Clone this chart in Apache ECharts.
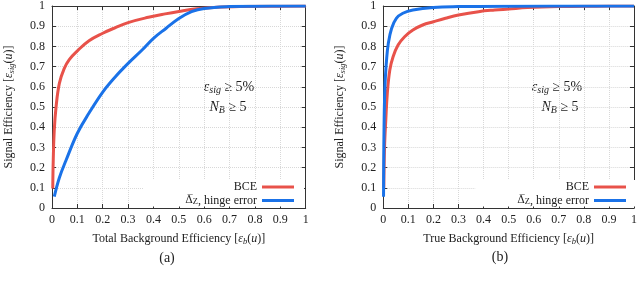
<!DOCTYPE html>
<html><head><meta charset="utf-8">
<script src="https://cdn.jsdelivr.net/npm/echarts@6/dist/echarts.min.js"></script>
<style>html,body{margin:0;padding:0;background:#fff}#c{width:640px;height:286px}</style>
</head><body><div id="c"></div>
<script>
// ---- data ----
const tickLabels = ['0','0.1','0.2','0.3','0.4','0.5','0.6','0.7','0.8','0.9','1'];
const seriesNames = ['BCE', '\u0394\u0305Z, hinge error'];

// (a) Total background efficiency
const bceTotalX   = [0.003,0.005,0.009,0.016,0.029,0.048,0.068,0.1,0.146,0.2,0.25,0.3,0.38,0.446,0.5,0.57,0.65,0.75,0.85,1.0];
const bceTotalY   = [0.097,0.24,0.386,0.50,0.617,0.69,0.735,0.778,0.828,0.865,0.893,0.918,0.944,0.961,0.973,0.986,0.994,0.998,0.999,1.0];
const hingeTotalX = [0.009,0.029,0.055,0.1,0.146,0.2,0.25,0.3,0.355,0.4,0.45,0.5,0.55,0.6,0.7,0.8,1.0];
const hingeTotalY = [0.056,0.15,0.235,0.37,0.47,0.574,0.65,0.716,0.782,0.84,0.89,0.938,0.972,0.988,0.997,0.999,1.0];

// (b) True background efficiency
const bceTrueX   = [0.002,0.005,0.01,0.016,0.026,0.039,0.059,0.085,0.118,0.157,0.2,0.248,0.3,0.38,0.444,0.5,0.575,0.7,0.85,1.0];
const bceTrueY   = [0.1,0.3,0.436,0.568,0.683,0.749,0.807,0.848,0.881,0.906,0.922,0.939,0.955,0.972,0.98,0.985,0.992,0.997,0.999,1.0];
const hingeTrueX = [0.001,0.0015,0.003,0.0065,0.013,0.02,0.033,0.052,0.078,0.118,0.2,0.3,0.5,1.0];
const hingeTrueY = [0.056,0.2,0.4,0.6,0.733,0.815,0.889,0.939,0.964,0.98,0.993,0.997,0.999,1.0];

// ---- chart ----
const SERIF = '"Liberation Serif","DejaVu Serif",serif';
const TXT = '#222';
const RED = '#e8524a';
const BLUE = '#1a72e8';

const richBase = {
  n:  {fontFamily: SERIF, fontSize: 12, color: TXT, lineHeight: 14, verticalAlign: 'middle'},
  i:  {fontFamily: SERIF, fontSize: 12, color: TXT, fontStyle: 'italic', lineHeight: 14, verticalAlign: 'middle'},
  s:  {fontFamily: SERIF, fontSize: 8.5, color: TXT, fontStyle: 'italic', lineHeight: 9, padding: [6,0,0,0], verticalAlign: 'bottom'}
};

function pairs(xs, ys) { return xs.map((x, k) => [x, ys[k]]); }
const fmt = v => tickLabels[Math.round(v * 10)];

function xAx(gi, pos, main, name) {
  return {
    type: 'value', gridIndex: gi, position: pos, min: 0, max: 1, interval: 0.1,
    axisLine: {show: true, onZero: false, lineStyle: {color: '#333', width: 1}},
    axisTick: {show: true, inside: true, length: 4, lineStyle: {color: '#333'}},
    axisLabel: {show: main, formatter: fmt, fontFamily: SERIF, fontSize: 12, color: TXT, margin: 6},
    splitLine: {show: main, lineStyle: {type: 'dotted', color: '#d8d8d8', width: 1}},
    name: main ? name : '', nameLocation: 'middle', nameGap: 22,
    nameTextStyle: {rich: richBase}
  };
}
function yAx(gi, pos, main) {
  return {
    type: 'value', gridIndex: gi, position: pos, min: 0, max: 1, interval: 0.1,
    axisLine: {show: true, onZero: false, lineStyle: {color: '#333', width: 1}},
    axisTick: {show: true, inside: true, length: 4, lineStyle: {color: '#333'}},
    axisLabel: {show: main, formatter: fmt, fontFamily: SERIF, fontSize: 12, color: TXT, margin: 7},
    splitLine: {show: main, lineStyle: {type: 'dotted', color: '#d8d8d8', width: 1}},
    name: main ? '{n|Signal Efficiency [}{i|\u03b5}{s|sig}{n|(}{i|u}{n|)]}' : '',
    nameLocation: 'middle', nameGap: 36,
    nameTextStyle: {rich: richBase}
  };
}

const legendRich = {
  n: {fontFamily: SERIF, fontSize: 12, color: TXT, lineHeight: 11, verticalAlign: 'middle'},
  d: {fontFamily: '"DejaVu Serif",serif', fontSize: 10.5, color: TXT, lineHeight: 11, verticalAlign: 'middle'},
  s: {fontFamily: SERIF, fontSize: 8.5, color: TXT, lineHeight: 8, padding: [3,0,0,0], verticalAlign: 'bottom'}
};
function legendFmt(name) {
  if (name === seriesNames[0]) return '{n|BCE}';
  return '{d|\u0394\u0305}{s|Z}{n|, hinge error}';
}
function legendAt(right) {
  return {
    data: seriesNames, orient: 'vertical', align: 'right', right: right, top: 180,
    itemWidth: 32, itemHeight: 3, icon: 'rect', itemGap: 1, selectedMode: false,
    backgroundColor: '#fff', padding: [1, 10, 0, 42],
    textStyle: {fontFamily: SERIF, fontSize: 12, color: TXT, rich: legendRich},
    formatter: legendFmt
  };
}

function line(name, xi, yi, data, color) {
  return {
    name: name, type: 'line', xAxisIndex: xi, yAxisIndex: yi, data: data,
    showSymbol: false, symbol: 'none', smooth: 0.4,
    lineStyle: {width: 3, color: color}, itemStyle: {color: color},
    animation: false
  };
}

const annRich = {
  i: {fontFamily: SERIF, fontSize: 14, fill: TXT, color: TXT, fontStyle: 'italic', lineHeight: 16, verticalAlign: 'middle'},
  n: {fontFamily: SERIF, fontSize: 14, fill: TXT, color: TXT, lineHeight: 16, verticalAlign: 'middle'},
  s: {fontFamily: SERIF, fontSize: 10, fill: TXT, color: TXT, fontStyle: 'italic', lineHeight: 10, padding: [7,0,0,0], verticalAlign: 'bottom'}
};
function ann(x, y, text) {
  return {type: 'text', x: x, y: y, silent: true,
    style: {text: text, rich: annRich, align: 'center', verticalAlign: 'middle', fill: TXT}};
}
function caption(x, y, text) {
  return {type: 'text', x: x, y: y, silent: true,
    style: {text: text, font: '14px ' + SERIF, fill: TXT, align: 'center', verticalAlign: 'middle'}};
}

const chart = echarts.init(document.getElementById('c'), null, {renderer: 'canvas'});
chart.setOption({
  animation: false,
  backgroundColor: '#fff',
  grid: [
    {left: 50.7, right: 334.3, top: 5, bottom: 78},
    {left: 383.3, right: 1.7, top: 5, bottom: 78}
  ],
  xAxis: [
    xAx(0, 'bottom', true, '{n|Total Background Efficiency [}{i|\u03b5}{s|b}{n|(}{i|u}{n|)]}'),
    xAx(0, 'top', false, ''),
    xAx(1, 'bottom', true, '{n|True Background Efficiency [}{i|\u03b5}{s|b}{n|(}{i|u}{n|)]}'),
    xAx(1, 'top', false, '')
  ],
  yAxis: [
    yAx(0, 'left', true), yAx(0, 'right', false),
    yAx(1, 'left', true), yAx(1, 'right', false)
  ],
  legend: [legendAt(336), legendAt(4)],
  series: [
    line(seriesNames[0], 0, 0, pairs(bceTotalX, bceTotalY), RED),
    line(seriesNames[1], 0, 0, pairs(hingeTotalX, hingeTotalY), BLUE),
    line(seriesNames[0], 2, 2, pairs(bceTrueX, bceTrueY), RED),
    line(seriesNames[1], 2, 2, pairs(hingeTrueX, hingeTrueY), BLUE)
  ],
  graphic: [
    ann(229, 87, '{i|\u03b5}{s|sig}{n| \u2265 5%}'),
    ann(228, 107, '{i|N}{s|B}{n| \u2265 5}'),
    ann(557, 87, '{i|\u03b5}{s|sig}{n| \u2265 5%}'),
    ann(560, 107, '{i|N}{s|B}{n| \u2265 5}'),
    caption(167, 258, '(a)'),
    caption(500, 257, '(b)')
  ]
});
</script></body></html>
